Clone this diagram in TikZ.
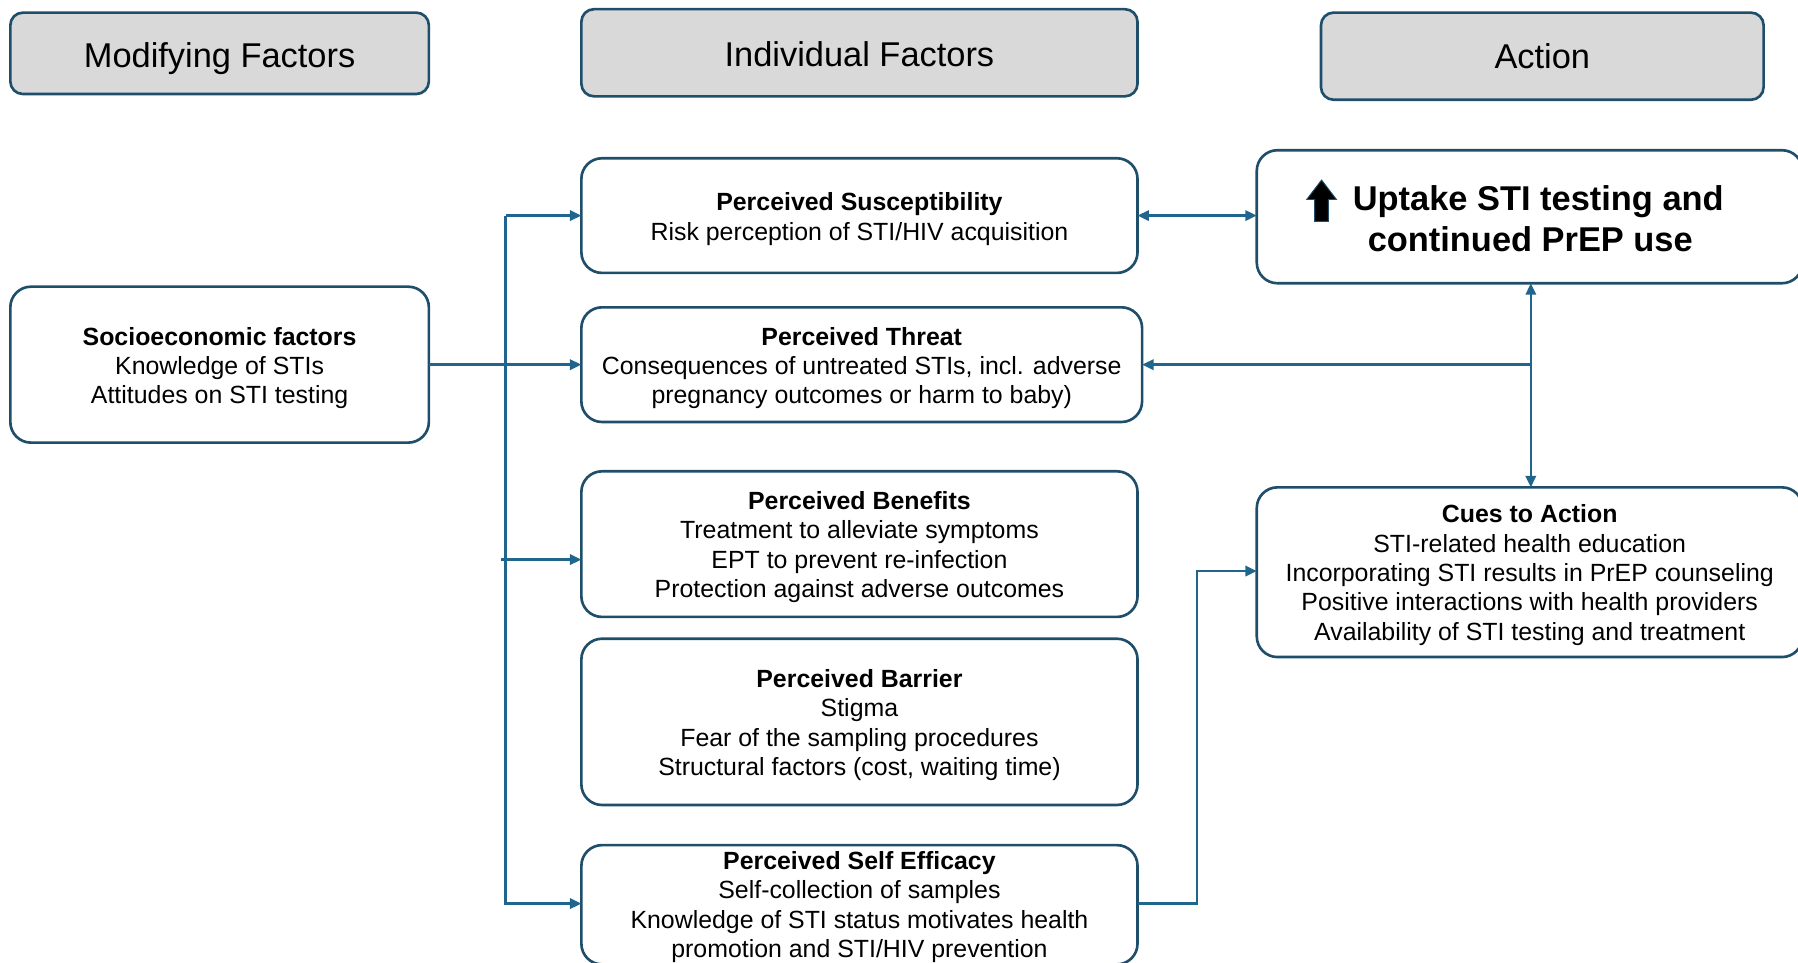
\documentclass[tikz,border=0pt]{standalone}
\usepackage{fontspec}
\setmainfont{Liberation Sans}
\usetikzlibrary{arrows.meta}
\definecolor{bordc}{HTML}{1F4E6B}
\definecolor{arrc}{HTML}{20658D}
\definecolor{hdrgrey}{HTML}{D9D9D9}
\tikzset{
  box/.style={draw=bordc, line width=2.3pt, rounded corners=18pt, inner sep=0pt, outer sep=0pt, fill=white},
  hdr/.style={box, fill=hdrgrey, rounded corners=11pt},
  txt/.style={inner sep=0pt, align=center, font=\fontsize{21.7}{25.7}\selectfont},
  hdrtxt/.style={inner sep=0pt, text height=21.5pt, text depth=0pt, font=\fontsize{30}{36}\selectfont},
  tip/.tip={Triangle[length=10pt,width=9pt]},
  arr/.style={draw=arrc, line width=2.1pt, -tip},
  darr/.style={draw=arrc, line width=2.1pt, tip-tip},
}
\begin{document}
\begin{tikzpicture}[x=1pt,y=-1pt]
\useasboundingbox (0,0) rectangle (1568,839);
\clip (0,0) rectangle (1568,839);
% headers
\node[hdr, minimum width=365pt, minimum height=71pt] (hmod) at (191.5,46.5) {};
\node[hdrtxt] (hmod-t) at (191.5,48) {Modifying Factors};
\node[hdr, minimum width=485pt, minimum height=76pt] (hind) at (749.5,46) {};
\node[hdrtxt] (hind-t) at (749.5,47) {Individual Factors};
\node[hdr, minimum width=386pt, minimum height=76pt] (hact) at (1345,49) {};
\node[hdrtxt] (hact-t) at (1345,49) {Action};
% content boxes
\node[box, minimum width=485pt, minimum height=100pt] (susc) at (749.5,188) {};
\node[txt] (susc-t) at (749.5,191)
  {\textbf{Perceived Susceptibility}\\Risk perception of STI/HIV acquisition};
\node[box, minimum width=476pt, minimum height=116pt] (upt) at (1334,189) {};
\node[inner sep=0pt, align=center, font=\bfseries\fontsize{30}{36}\selectfont] (upt-t) at (1334.5,191)
  {\hspace*{14pt}Uptake STI testing and\\continued PrEP use};
\filldraw[fill=black, draw=bordc, line width=0.8pt] (1152.5,157) -- (1165.5,174) -- (1158.5,174) -- (1158.5,193) -- (1146.5,193) -- (1146.5,174) -- (1139.5,174) -- cycle;
\node[box, minimum width=365pt, minimum height=136pt] (socio) at (191.5,318) {};
\node[txt] (socio-t) at (191.5,321)
  {\textbf{Socioeconomic factors}\\Knowledge of STIs\\Attitudes on STI testing};
\node[box, minimum width=489pt, minimum height=100pt] (threat) at (751.5,318) {};
\node[txt] (threat-t) at (751.5,321)
  {\textbf{Perceived Threat}\\Consequences of untreated STIs, incl. adverse\\pregnancy outcomes or harm to baby)};
\node[box, minimum width=485pt, minimum height=127pt] (benef) at (749.5,474.5) {};
\node[txt] (benef-t) at (749.5,477)
  {\textbf{Perceived Benefits}\\Treatment to alleviate symptoms\\EPT to prevent re-infection\\Protection against adverse outcomes};
\node[box, minimum width=476pt, minimum height=148pt] (cues) at (1334,499) {};
\node[txt] (cues-t) at (1334,501.5)
  {\textbf{Cues to Action}\\STI-related health education\\Incorporating STI results in PrEP counseling\\Positive interactions with health providers\\Availability of STI testing and treatment};
\node[box, minimum width=485pt, minimum height=145pt] (barr) at (749.5,629.5) {};
\node[txt] (barr-t) at (749.5,632.5)
  {\textbf{Perceived Barrier}\\Stigma\\Fear of the sampling procedures\\Structural factors (cost, waiting time)};
\node[box, minimum width=485pt, minimum height=104pt] (self) at (749.5,789) {};
\node[txt] (self-t) at (749.5,791)
  {\textbf{Perceived Self Efficacy}\\Self-collection of samples\\Knowledge of STI status motivates health\\promotion and STI/HIV prevention};
% connector coordinates
\coordinate (jt) at (441,188);
\coordinate (jb) at (441,788);
\coordinate (jm) at (437,488);
\coordinate (jr) at (1335,318);
\coordinate (jc) at (1044,498);
% connectors
\draw[arr] (socio.east) -- (threat.west);
\draw[arr] (jt) -- (susc.west);
\draw[arr] (jt) -- (jb) -- (jb -| self.west);
\draw[arr] (jm) -- (jm -| benef.west);
\draw[darr] (susc.east) -- (susc.east -| upt.west);
\draw[darr] (jr |- upt.south) -- (jr |- cues.north);
\draw[arr] (jr) -- (threat.east);
\draw[arr] (self.east |- jb) -| (jc) -- (jc -| cues.west);
\end{tikzpicture}
\end{document}
